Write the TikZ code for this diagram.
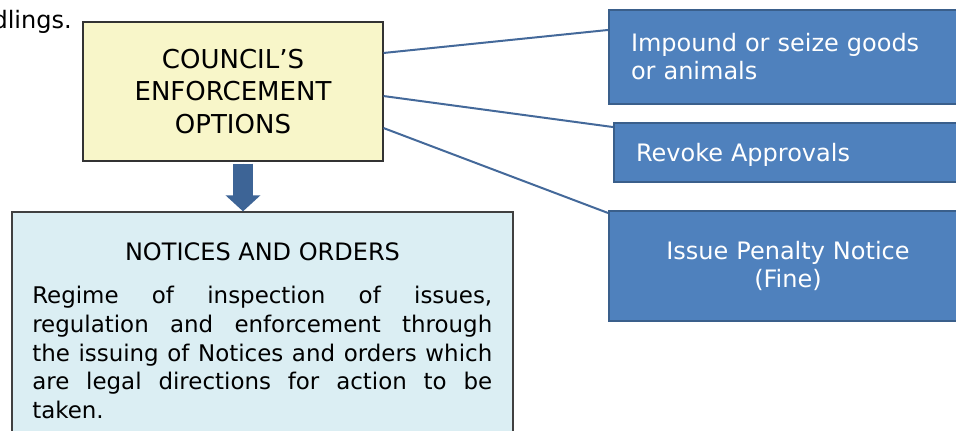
\documentclass[tikz,border=0pt]{standalone}
\usepackage{fontspec}
\setmainfont{DejaVu Sans}
\usetikzlibrary{arrows.meta}
\definecolor{optyellow}{HTML}{F8F6C9}
\definecolor{optblue}{HTML}{4F81BD}
\definecolor{optedge}{HTML}{3A5F8B}
\definecolor{linkblue}{HTML}{44699A}
\definecolor{arrowblue}{HTML}{3D6496}
\definecolor{noticeblue}{HTML}{DBEEF3}
\begin{document}
\begin{tikzpicture}[x=0.75pt,y=-0.75pt,
	council/.style={draw=black!80,fill=optyellow,line width=0.8pt,minimum width=225pt,minimum height=104.25pt,align=center,font=\fontsize{19.5pt}{24.4pt}\selectfont},
	option/.style={draw=optedge,fill=optblue,line width=1.5pt,text=white,inner xsep=16.5pt,font=\fontsize{18pt}{21pt}\selectfont},
	link/.style={draw=linkblue,line width=1.5pt}]
			\useasboundingbox (0,0) rectangle (956,430);
			\node[anchor=base east,inner sep=0pt,font=\fontsize{18pt}{21pt}\selectfont] (prevtext) at (72,28) {dlings.};
			\node[council] (council) at (233,91.5) {COUNCIL’S\\ENFORCEMENT\\OPTIONS};
			\node[option,text width=237pt,align=left,minimum height=70.5pt] (impound) at (789,56.5) {Impound or seize goods or animals};
			\node[option,text width=234pt,align=left,minimum height=44.25pt,text depth=0pt] (revoke) at (792,152.5) {Revoke Approvals};
			\node[option,text width=235.5pt,align=center,minimum height=82.5pt] (penalty) at (788,265.5) {Issue Penalty Notice\\(Fine)};
			\node[draw=black!75,fill=noticeblue,line width=1pt,minimum width=375.75pt,minimum height=193.5pt] (notices) at (262.5,341) {};
			\node[anchor=base,font=\fontsize{18pt}{21pt}\selectfont] (noticestitle) at (262.5,260) {NOTICES AND ORDERS};
			\node[anchor=north west,inner sep=0pt,text width=345pt,align=justify,font=\fontsize{17.2pt}{21.5pt}\selectfont] (noticestext) at (32,286) {Regime of inspection of issues,\linebreak regulation and enforcement through\linebreak the issuing of Notices and orders which\linebreak are legal directions for action to be\linebreak taken.};
			\draw[link] ([yshift=28.9pt]council.east) -- ([yshift=19.9pt]impound.west);
			\draw[link] ([yshift=-3.4pt]council.east) -- ([yshift=19.1pt]revoke.west);
			\draw[link] ([yshift=-27.4pt]council.east) -- ([yshift=39.4pt]penalty.west);
			\draw[-{Triangle[width=25.5pt,length=12pt]},line width=15pt,draw=arrowblue,fill=arrowblue] ([xshift=7.5pt,yshift=-1.5pt]council.south) -- ([xshift=7.5pt]council.south |- notices.north);
			\end{tikzpicture}
\end{document}
